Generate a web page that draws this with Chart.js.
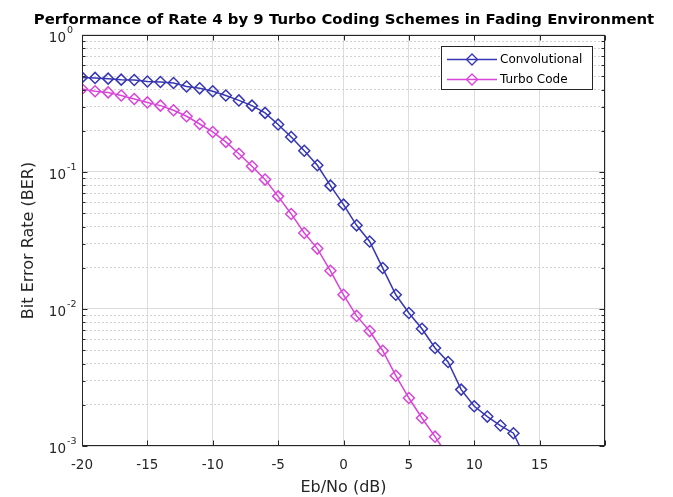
<!DOCTYPE html>
<html>
<head>
<meta charset="utf-8">
<script src="https://cdn.jsdelivr.net/npm/chart.js@4.4.1/dist/chart.umd.min.js"></script>
<style>
  body { margin: 0; background: #fff; }
  canvas { display: block; }
</style>
</head>
<body>
<canvas id="ber" width="673" height="497"></canvas>
<script>
// Eb/No points (dB) and BER
const snrConv = [-20, -19, -18, -17, -16, -15, -14, -13, -12, -11, -10, -9, -8, -7, -6, -5, -4, -3, -2, -1,
                 0, 1, 2, 3, 4, 5, 6, 7, 8, 9, 10, 11, 12, 13, 14];
const berConv = [0.49, 0.486, 0.48, 0.472, 0.469, 0.458, 0.454, 0.446, 0.421, 0.408, 0.388, 0.362, 0.333, 0.305, 0.270,
                 0.222, 0.180, 0.143, 0.112, 0.0795, 0.0578, 0.0408, 0.0311, 0.0199, 0.0127, 0.00935, 0.00718,
                 0.00519, 0.0041, 0.00258, 0.00195, 0.00164, 0.00141, 0.00124, 0.00078];

const snrTurbo = [-20, -19, -18, -17, -16, -15, -14, -13, -12, -11, -10, -9, -8, -7, -6, -5, -4, -3, -2, -1,
                  0, 1, 2, 3, 4, 5, 6, 7, 8];
const berTurbo = [0.403, 0.388, 0.381, 0.362, 0.341, 0.322, 0.305, 0.282, 0.255, 0.224, 0.196, 0.166, 0.136, 0.110,
                  0.088, 0.0664, 0.0494, 0.0359, 0.0276, 0.019, 0.0127, 0.0089, 0.0069, 0.00496, 0.00326, 0.00224,
                  0.0016, 0.00117, 0.00084];

const xTicks = [-20, -15, -10, -5, 0, 5, 10, 15, 20];
const xTickLabels = ['-20', '-15', '-10', '-5', '0', '5', '10', '15', ''];
const yMajor = [0.001, 0.01, 0.1, 1];

// minor log ticks 2..9 in each decade
const yMinor = [];
for (let d = 0; d < yMajor.length - 1; d++) {
    for (let m = 2; m <= 9; m++) {
        yMinor.push(+(m * yMajor[d]).toPrecision(3));
    }
}

const blue = '#3636b4';
const magenta = '#d845d8';
const axisColor = '#262626';
const fontFamily = '"DejaVu Sans", sans-serif';

function toPoints(xs, ys) {
    return xs.map((x, i) => ({x: x, y: ys[i]}));
}

// inward tick marks + box, like the original figure
const boxTicks = {
    id: 'boxTicks',
    afterDatasetsDraw(chart) {
        const ctx = chart.ctx;
        const a = chart.chartArea;
        const xs = chart.scales.x, ys = chart.scales.y;
        const L = Math.round(a.left) + 0.5, R = Math.round(a.right) - 0.5;
        const T = Math.round(a.top) + 0.5, B = Math.round(a.bottom) - 0.5;
        ctx.save();
        ctx.strokeStyle = axisColor;
        ctx.lineWidth = 1;
        ctx.beginPath();
        xTicks.forEach(v => {
            const px = Math.round(xs.getPixelForValue(v)) + 0.5;
            ctx.moveTo(px, B); ctx.lineTo(px, B - 5);
            ctx.moveTo(px, T); ctx.lineTo(px, T + 5);
        });
        yMajor.forEach(v => {
            const py = Math.round(ys.getPixelForValue(v)) + 0.5;
            ctx.moveTo(L, py); ctx.lineTo(L + 5, py);
            ctx.moveTo(R, py); ctx.lineTo(R - 5, py);
        });
        yMinor.forEach(v => {
            const py = Math.round(ys.getPixelForValue(v)) + 0.5;
            ctx.moveTo(L, py); ctx.lineTo(L + 3, py);
            ctx.moveTo(R, py); ctx.lineTo(R - 3, py);
        });
        ctx.stroke();
        ctx.strokeRect(L, T, R - L, B - T);

        // 10^n labels
        ctx.fillStyle = axisColor;
        yMajor.forEach(v => {
            const py = ys.getPixelForValue(v);
            const p = Math.round(Math.log10(v));
            ctx.font = '13.5px ' + fontFamily;
            ctx.textAlign = 'right';
            ctx.textBaseline = 'middle';
            ctx.fillText('10', a.left - 16, py + 3.5);
            ctx.font = '9.5px ' + fontFamily;
            ctx.textAlign = 'left';
            ctx.fillText(String(p), a.left - 15, py - 4);
        });
        ctx.restore();
    }
};

// MATLAB style legend: line with marker in the middle
const lineLegend = {
    id: 'lineLegend',
    afterDraw(chart) {
        const ctx = chart.ctx;
        const bx = 441.5, by = 46.5, bw = 151, bh = 43;
        ctx.save();
        ctx.fillStyle = '#fff';
        ctx.fillRect(bx, by, bw, bh);
        ctx.strokeStyle = axisColor;
        ctx.lineWidth = 1;
        ctx.strokeRect(bx, by, bw, bh);
        chart.data.datasets.forEach((ds, i) => {
            const y = 59.5 + i * 20;
            ctx.strokeStyle = ds.borderColor;
            ctx.lineWidth = 1.4;
            ctx.beginPath();
            ctx.moveTo(447, y); ctx.lineTo(497, y);
            ctx.stroke();
            ctx.beginPath();
            ctx.moveTo(472, y - 5.5); ctx.lineTo(477.5, y); ctx.lineTo(472, y + 5.5); ctx.lineTo(466.5, y);
            ctx.closePath();
            ctx.stroke();
            ctx.fillStyle = '#000';
            ctx.font = '12px ' + fontFamily;
            ctx.textAlign = 'left';
            ctx.textBaseline = 'middle';
            ctx.fillText(ds.label, 500, y);
        });
        ctx.restore();
    }
};

new Chart(document.getElementById('ber'), {
    type: 'line',
    data: {
        datasets: [{
            label: 'Convolutional',
            data: toPoints(snrConv, berConv),
            borderColor: blue,
            borderWidth: 1.5,
            pointStyle: 'rectRot',
            pointRadius: 5.5,
            pointBorderWidth: 1.5,
            pointBackgroundColor: 'rgba(0,0,0,0)',
            pointBorderColor: blue,
            tension: 0
        }, {
            label: 'Turbo Code',
            data: toPoints(snrTurbo, berTurbo),
            borderColor: magenta,
            borderWidth: 1.5,
            pointStyle: 'rectRot',
            pointRadius: 5.5,
            pointBorderWidth: 1.5,
            pointBackgroundColor: 'rgba(0,0,0,0)',
            pointBorderColor: magenta,
            tension: 0
        }]
    },
    options: {
        responsive: false,
        animation: false,
        layout: { padding: { left: 15, right: 0, top: 0, bottom: 0 } },
        plugins: {
            legend: { display: false },
            tooltip: { enabled: false },
            title: {
                display: true,
                text: 'Performance of Rate 4 by 9 Turbo Coding Schemes in Fading Environment',
                color: '#000',
                font: { family: fontFamily, size: 14.9, weight: 'bold' },
                padding: { top: 11.5, bottom: 5.6 }
            }
        },
        scales: {
            x: {
                type: 'linear',
                min: -20,
                max: 20,
                afterBuildTicks: scale => { scale.ticks = xTicks.map(v => ({value: v})); },
                afterFit: scale => { scale.height = 51; },
                ticks: {
                    padding: 11,
                    color: axisColor,
                    font: { family: fontFamily, size: 13.5 },
                    callback: (v) => xTickLabels[xTicks.indexOf(v)]
                },
                grid: { color: '#dcdcdc', drawTicks: false },
                border: { display: false },
                title: {
                    display: true,
                    text: 'Eb/No (dB)',
                    color: axisColor,
                    font: { family: fontFamily, size: 16 },
                    padding: { top: 0, bottom: 0 }
                }
            },
            y: {
                type: 'logarithmic',
                min: 0.001,
                max: 1,
                afterBuildTicks: scale => { scale.ticks = yMajor.map(v => ({value: v})); },
                afterFit: scale => { scale.width = 67; },
                ticks: { display: false },
                grid: { color: '#dcdcdc', drawTicks: false },
                border: { display: false },
                title: {
                    display: true,
                    text: 'Bit Error Rate (BER)',
                    color: axisColor,
                    font: { family: fontFamily, size: 16 },
                    padding: { top: 4, bottom: 0 }
                }
            },
            yMinorGrid: {
                type: 'logarithmic',
                position: 'right',
                min: 0.001,
                max: 1,
                afterBuildTicks: scale => { scale.ticks = yMinor.map(v => ({value: v})); },
                afterFit: scale => { scale.width = 68; },
                ticks: { display: false },
                grid: { color: '#d2d2d2', drawTicks: false },
                border: { display: false, dash: [2, 2] }
            }
        }
    },
    plugins: [boxTicks, lineLegend]
});
</script>
</body>
</html>
